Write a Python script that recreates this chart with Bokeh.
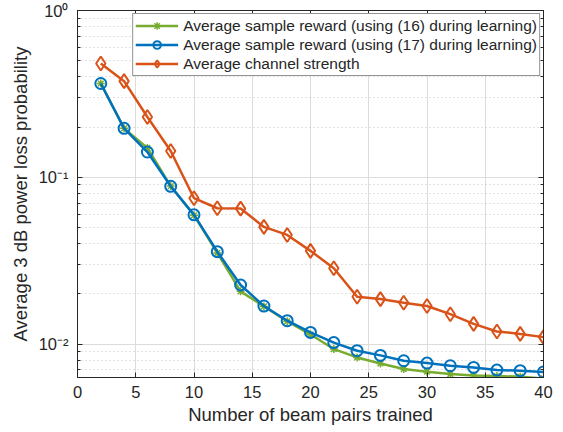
from bokeh.plotting import figure
from bokeh.models import (FixedTicker, Legend, LegendItem, CustomJSTickFormatter, Range1d,
                          LinearAxis, LogAxis)
from bokeh.embed import file_html
from bokeh.resources import INLINE

# ---- data ----
beams = [2, 4, 6, 8, 10, 12, 14, 16, 18, 20, 22, 24, 26, 28, 30, 32, 34, 36, 38, 40]
reward_16 = [0.365, 0.1965, 0.150, 0.0885, 0.0592, 0.0352, 0.0207, 0.0168, 0.0137, 0.0114,
             0.00933, 0.00831, 0.00765, 0.00708, 0.00683, 0.00661, 0.00648, 0.00643, 0.00637, 0.00622]
reward_17 = [0.365, 0.1965, 0.1417, 0.0883, 0.0595, 0.0358, 0.0226, 0.0169, 0.0138, 0.01174,
             0.0102, 0.00912, 0.00855, 0.00794, 0.00769, 0.00741, 0.00724, 0.00698, 0.00692, 0.00680]
channel = [0.481, 0.377, 0.2297, 0.1437, 0.0749, 0.0652, 0.0649, 0.0504, 0.0451, 0.0362,
           0.0285, 0.0192, 0.0186, 0.0177, 0.0169, 0.0151, 0.0132, 0.0119, 0.0115, 0.0110]

labels = ["Average sample reward (using (16) during learning)",
          "Average sample reward (using (17) during learning)",
          "Average channel strength"]
x_ticks = [0, 5, 10, 15, 20, 25, 30, 35, 40]
y_major = [0.01, 0.1, 1.0]
y_minor = [0.007, 0.008, 0.009] + [k * 0.01 for k in range(2, 10)] + [k * 0.1 for k in range(2, 10)]

GREEN = "#77AC30"
BLUE = "#0072BD"
ORANGE = "#D95319"
AX = "#262626"
FONT = "Liberation Sans"

p = figure(width=560, height=430, y_axis_type="log",
           x_range=Range1d(0, 40), y_range=Range1d(0.0063, 1.0),
           output_backend="svg", toolbar_location=None,
           min_border_left=77, min_border_right=17, min_border_top=10, min_border_bottom=53)
p.outline_line_color = AX

sup = CustomJSTickFormatter(code="""
const e = Math.round(Math.log10(tick));
const m = {'0':'\\u2070','1':'\\u00b9','2':'\\u00b2','3':'\\u00b3','-':'\\u207b'};
return '10' + String(e).split('').map(c => m[c]).join('');
""")

# lines + markers
r1l = p.line(beams, reward_16, line_color=GREEN, line_width=2.5)
r1m = p.scatter(beams, reward_16, marker="asterisk", size=8, line_color=GREEN, line_width=1.5)
r2l = p.line(beams, reward_17, line_color=BLUE, line_width=2.5)
r2m = p.scatter(beams, reward_17, marker="circle", size=11, line_color=BLUE, line_width=2,
                fill_color=None)
r3l = p.line(beams, channel, line_color=ORANGE, line_width=2.5)
r3m = p.scatter(beams, channel, marker="diamond", size=14, line_color=ORANGE, line_width=2,
                fill_color=None)

# axes
for ax in (p.xaxis[0], p.yaxis[0]):
    ax.axis_line_color = AX
    ax.major_tick_line_color = AX
    ax.minor_tick_line_color = AX
    ax.major_tick_in = 5
    ax.major_tick_out = 0
    ax.minor_tick_in = 3
    ax.minor_tick_out = 0
    ax.major_label_text_font = FONT
    ax.major_label_text_font_size = "16.5px"
    ax.major_label_text_color = AX
    ax.axis_label_text_font = FONT
    ax.axis_label_text_font_size = "18.5px"
    ax.axis_label_text_font_style = "normal"
    ax.axis_label_text_color = AX

p.xaxis.ticker = FixedTicker(ticks=x_ticks)
p.xaxis.minor_tick_line_color = None
p.xaxis.axis_label = "Number of beam pairs trained"
p.xaxis.major_label_standoff = 8
p.xaxis.axis_label_standoff = 3

p.yaxis.ticker = FixedTicker(ticks=y_major, minor_ticks=y_minor)
p.yaxis.formatter = sup
p.yaxis.axis_label = "Average 3 dB power loss probability"
p.yaxis.major_label_standoff = 9
p.yaxis.axis_label_standoff = 5

# box ticks on the top and right edges (no labels), MATLAB style
top = LinearAxis(ticker=FixedTicker(ticks=x_ticks), major_label_text_font_size="1px",
                 major_label_text_color=None, major_label_standoff=0,
                 major_tick_in=5, major_tick_out=0, minor_tick_line_color=None,
                 axis_line_color=AX, major_tick_line_color=AX)
right = LogAxis(ticker=FixedTicker(ticks=y_major, minor_ticks=y_minor),
                formatter=sup, major_label_text_font_size="1px",
                major_label_text_color=None, major_label_standoff=0,
                major_tick_in=5, major_tick_out=0, minor_tick_in=3, minor_tick_out=0,
                axis_line_color=AX, major_tick_line_color=AX, minor_tick_line_color=AX)
p.add_layout(top, "above")
p.add_layout(right, "right")

# grid
p.xgrid.grid_line_color = "#dcdcdc"
p.ygrid.grid_line_color = "#dcdcdc"
p.ygrid.minor_grid_line_color = "#c4c4c4"
p.ygrid.minor_grid_line_dash = "1 3"

legend = Legend(items=[LegendItem(label=labels[0], renderers=[r1l, r1m]),
                       LegendItem(label=labels[1], renderers=[r2l, r2m]),
                       LegendItem(label=labels[2], renderers=[r3l, r3m])],
                location="top_right", margin=3, padding=2, spacing=0,
                glyph_width=43, glyph_height=19, label_height=19, label_standoff=5,
                label_text_font=FONT, label_text_font_size="15.5px", label_text_color=AX,
                border_line_color=AX, border_line_width=1, background_fill_alpha=1)
p.add_layout(legend, "center")

open("out.html", "w").write(file_html(p, INLINE))
